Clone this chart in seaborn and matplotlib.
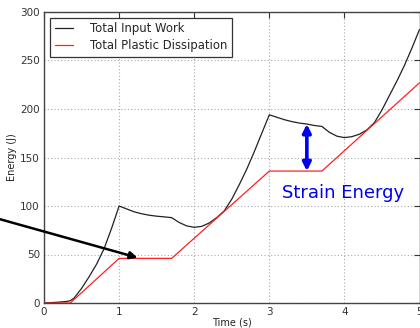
import matplotlib
matplotlib.use("Agg")
import matplotlib.pyplot as plt
import seaborn as sns
import pandas as pd

# ---- data ----
time_work = [0.0, 0.1, 0.2, 0.3, 0.35, 0.4, 0.5, 0.6, 0.7, 0.8, 0.9, 1.0,
             1.1, 1.2, 1.3, 1.4, 1.5, 1.6, 1.7, 1.8, 1.9, 2.0, 2.1, 2.2, 2.3,
             2.4, 2.5, 2.6, 2.7, 2.8, 2.9, 3.0,
             3.1, 3.2, 3.3, 3.4, 3.5, 3.6, 3.7, 3.8, 3.9, 4.0, 4.1, 4.2, 4.3,
             4.4, 4.5, 4.6, 4.7, 4.8, 4.9, 5.0]
input_work = [0.0, 0.4, 0.9, 1.6, 2.4, 5.0, 15.0, 27.0, 40.0, 56.0, 77.0, 100.0,
              97.0, 94.0, 92.0, 90.5, 89.5, 88.8, 88.0, 83.0, 79.5, 78.0, 79.0, 82.5, 88.0,
              95.0, 107.0, 122.0, 138.0, 156.0, 175.0, 194.0,
              191.5, 189.0, 187.0, 185.5, 184.5, 183.0, 182.0, 176.0, 172.0, 170.5, 171.5, 174.0, 178.5,
              186.0, 199.0, 214.0, 229.0, 245.0, 263.0, 282.0]

time_plastic = [0.0, 0.35, 1.0, 1.7, 3.0, 3.7, 5.0]
plastic_diss = [0.0, 0.0, 46.0, 46.0, 136.0, 136.0, 227.0]

x_ticks = [0, 1, 2, 3, 4, 5]
y_ticks = [0, 50, 100, 150, 200, 250, 300]

strain_x = 3.5
strain_lo, strain_hi = 136.0, 184.5

df_work = pd.DataFrame({"t": time_work, "E": input_work})
df_plas = pd.DataFrame({"t": time_plastic, "E": plastic_diss})

sns.set_style("white")
plt.rcParams["font.family"] = ["DejaVu Sans"]

fig = plt.figure(figsize=(4.2, 3.28), dpi=100)
ax = fig.add_axes([44 / 420, 1 - 303 / 328, (419.5 - 44) / 420, (303 - 12) / 328])

sns.lineplot(data=df_work, x="t", y="E", ax=ax, color="#222222", lw=0.9,
             sort=False, estimator=None, label="Total Input Work")
sns.lineplot(data=df_plas, x="t", y="E", ax=ax, color="#ff2020", lw=0.9,
             sort=False, estimator=None, label="Total Plastic Dissipation")

ax.set_xlim(0, 5)
ax.set_ylim(0, 300)
ax.set_xticks(x_ticks)
ax.set_yticks(y_ticks)
ax.tick_params(direction="in", length=4, width=0.8, top=True, right=True,
               labelsize=7.5, colors="#333333", pad=3)
ax.tick_params(axis="both", labelcolor="#333333")
for s in ax.spines.values():
    s.set_color("#444444")
    s.set_linewidth(1.0)
ax.grid(True, linestyle=(0, (1, 2)), color="#aaaaaa", lw=0.8)

ax.set_xlabel("Time (s)", fontsize=7, color="#222222", labelpad=0.5)
ax.set_ylabel("Energy (J)", fontsize=7, color="#222222", labelpad=2)

leg = ax.legend(loc="upper left", fontsize=8.4, frameon=True, fancybox=False,
                framealpha=1, edgecolor="#333333", handlelength=1.6,
                borderaxespad=0.5, borderpad=0.4, labelspacing=0.3,
                handletextpad=1.4)
leg.get_frame().set_linewidth(0.9)

# black arrow from outside the axes
ax.annotate("", xy=(1.28, 46), xytext=(-0.8, 91), annotation_clip=False,
            arrowprops=dict(arrowstyle="-|>", color="black", lw=1.8,
                            mutation_scale=11))

# blue double arrow
ax.annotate("", xy=(strain_x, strain_hi), xytext=(strain_x, strain_lo),
            arrowprops=dict(arrowstyle="<|-|>", color="#0000ee", lw=2.6,
                            mutation_scale=12, shrinkA=0, shrinkB=0))
ax.text(3.17, 108, "Strain Energy", color="#0000ee", fontsize=13,
        va="baseline", ha="left", clip_on=False)

fig.savefig("out.png", dpi=100)
